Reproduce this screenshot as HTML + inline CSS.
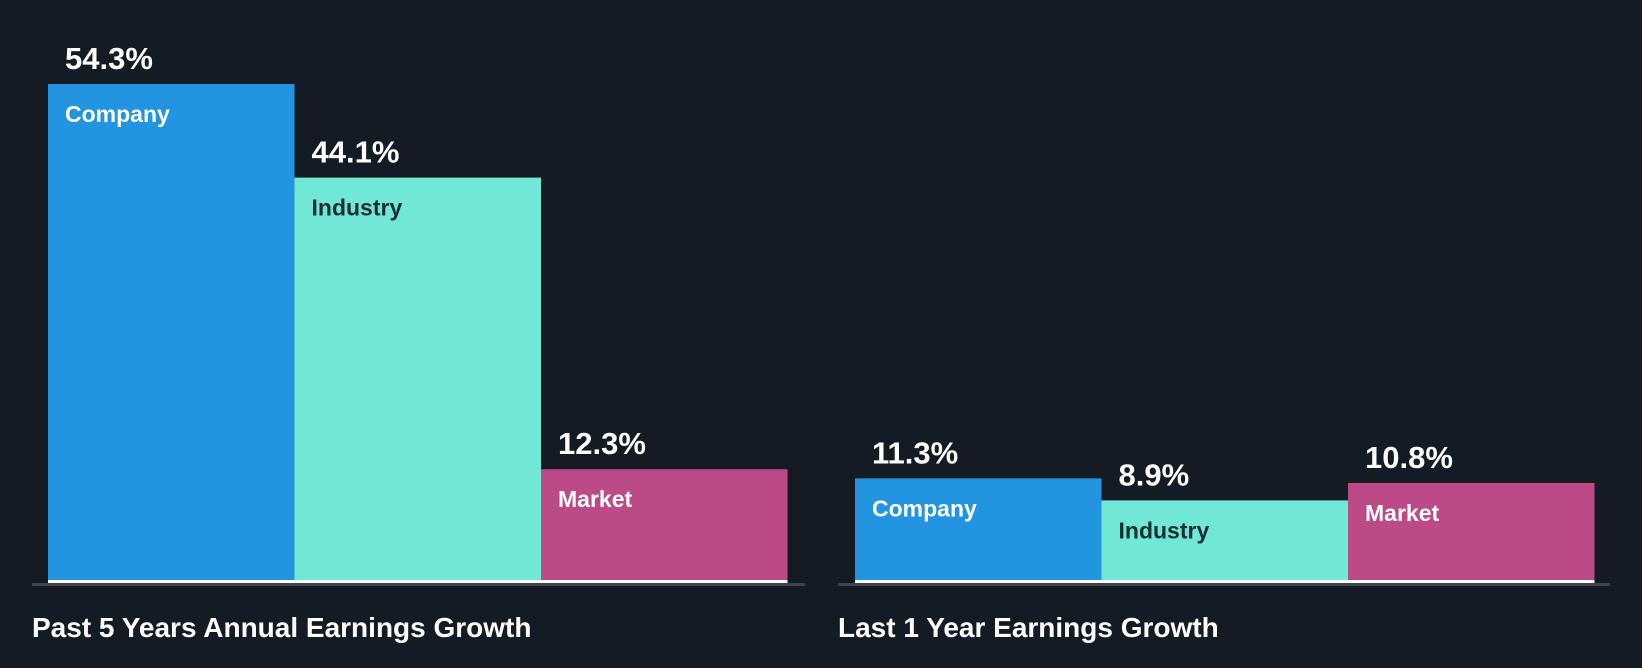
<!DOCTYPE html>
<html><head><meta charset="utf-8"><style>
html,body{margin:0;padding:0;background:#151b24;}
svg{display:block;font-family:"Liberation Sans",sans-serif;font-weight:bold;}
</style></head><body>
<svg id="chart" width="1642" height="668"></svg>
<script>
const groups = ["Past 5 Years Annual Earnings Growth", "Last 1 Year Earnings Growth"];
const categories = ["Company", "Industry", "Market"];
const past5Values = [54.3, 44.1, 12.3];
const last1Values = [11.3, 8.9, 10.8];
const colors = ["#2394df", "#71e7d6", "#bb4a86"];
const labelColors = ["#ffffff", "#1d2e35", "#ffffff"];

const svg = document.getElementById('chart');
const NS = 'http://www.w3.org/2000/svg';
const baseY = 582;
const pxPerUnit = 9.17;
function yScale(v){ return baseY - v * pxPerUnit; }
const panels = [
  {x0: 48, axisX0: 32, axisX1: 805, titleX: 32, values: past5Values},
  {x0: 855, axisX0: 838, axisX1: 1610, titleX: 838, values: last1Values}
];
const barW = 246.5;
function mk(tag, attrs){ const e = document.createElementNS(NS, tag); for (const k in attrs) e.setAttribute(k, attrs[k]); svg.appendChild(e); return e; }

panels.forEach((p, gi) => {
  p.values.forEach((v, i) => {
    const x = p.x0 + i * barW;
    const top = yScale(v);
    const r = mk('rect', {x: x, y: top, width: barW, height: baseY - top, fill: colors[i]});
    
    
    const vt = mk('text', {x: x + 17, y: top - 15, fill: '#ffffff', 'font-size': 31});
    vt.textContent = v.toFixed(1) + '%';
    
    
    const lt = mk('text', {x: x + 17, y: top + 38, fill: labelColors[i], 'font-size': 23});
    lt.textContent = categories[i];
    
    
  });
  const wl = mk('rect', {x: p.x0, y: baseY - 2, width: barW * 3, height: 3, fill: '#ffffff'});
  
  
  const ax = mk('rect', {x: p.axisX0, y: baseY + 1, width: p.axisX1 - p.axisX0, height: 3, fill: '#3f444c'});
  
  
  const t = mk('text', {x: p.titleX, y: 637, fill: '#ffffff', 'font-size': 28});
  t.textContent = groups[gi];
  
  
});
</script>
</body></html>
